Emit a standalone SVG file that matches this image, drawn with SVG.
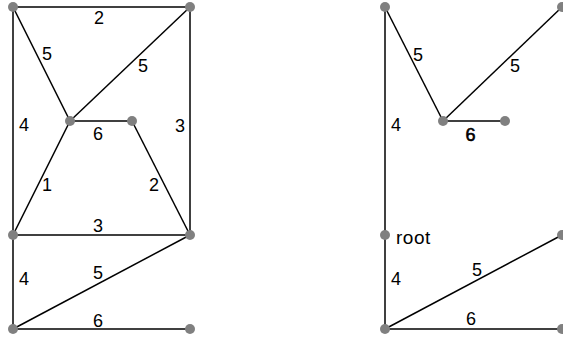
<svg xmlns="http://www.w3.org/2000/svg" width="563" height="342" viewBox="0 0 563 342">
<style>
.e{stroke:#000;stroke-width:1.5;fill:none}
.n{fill:#808080}
.t{font-family:"Liberation Sans",Arial,sans-serif;font-size:18px;fill:#000;text-anchor:middle}
.tl{font-family:"Liberation Sans",Arial,sans-serif;font-size:19px;fill:#000;letter-spacing:0.5px}
</style>
<rect width="563" height="342" fill="#fff"/>
<g id="connectors">
<line class="e" x1="13" y1="7" x2="190" y2="7"/>
<line class="e" x1="13" y1="7" x2="13" y2="329"/>
<line class="e" x1="190" y1="7" x2="190" y2="235"/>
<line class="e" x1="13" y1="7" x2="70" y2="121"/>
<line class="e" x1="190" y1="7" x2="70" y2="121"/>
<line class="e" x1="70" y1="121" x2="132" y2="121"/>
<line class="e" x1="70" y1="121" x2="13" y2="235"/>
<line class="e" x1="132" y1="121" x2="190" y2="235"/>
<line class="e" x1="13" y1="235" x2="190" y2="235"/>
<line class="e" x1="190" y1="235" x2="13" y2="329"/>
<line class="e" x1="13" y1="329" x2="190" y2="329"/>
<line class="e" x1="385" y1="7" x2="385" y2="329"/>
<line class="e" x1="385" y1="7" x2="443" y2="121"/>
<line class="e" x1="562" y1="7" x2="443" y2="121"/>
<line class="e" x1="443" y1="121" x2="505" y2="121"/>
<line class="e" x1="562" y1="235" x2="385" y2="329"/>
<line class="e" x1="385" y1="329" x2="562" y2="329"/>
</g>
<g id="labels">
<text class="t" x="99" y="24">2</text>
<text class="t" x="47" y="60">5</text>
<text class="t" x="143" y="72">5</text>
<text class="t" x="24" y="131">4</text>
<text class="t" x="98" y="140">6</text>
<text class="t" x="180" y="132">3</text>
<text class="t" x="47" y="191">1</text>
<text class="t" x="154" y="191">2</text>
<text class="t" x="98" y="232">3</text>
<text class="t" x="24" y="285">4</text>
<text class="t" x="98" y="279">5</text>
<text class="t" x="98" y="327">6</text>
<text class="t" x="418" y="61">5</text>
<text class="t" x="515" y="72">5</text>
<text class="t" x="396" y="131">4</text>
<text class="t" x="470.5" y="141" style="font-size:18px" stroke="#000" stroke-width="0.6">6</text>
<text class="tl" x="396" y="244">root</text>
<text class="t" x="396" y="285">4</text>
<text class="t" x="477" y="276">5</text>
<text class="t" x="471" y="325">6</text>
</g>
<g id="n1"><circle class="n" cx="13" cy="7" r="5"/></g>
<g id="n2"><circle class="n" cx="190" cy="7" r="5"/></g>
<g id="n3"><circle class="n" cx="70" cy="121" r="5"/></g>
<g id="n4"><circle class="n" cx="132" cy="121" r="5"/></g>
<g id="n5"><circle class="n" cx="13" cy="235" r="5"/></g>
<g id="n6"><circle class="n" cx="190" cy="235" r="5"/></g>
<g id="n7"><circle class="n" cx="13" cy="329" r="5"/></g>
<g id="n8"><circle class="n" cx="190" cy="329" r="5"/></g>
<g id="m1"><circle class="n" cx="385" cy="7" r="5"/></g>
<g id="m2"><circle class="n" cx="562" cy="7" r="5"/></g>
<g id="m3"><circle class="n" cx="443" cy="121" r="5"/></g>
<g id="m4"><circle class="n" cx="505" cy="121" r="5"/></g>
<g id="m5"><circle class="n" cx="385" cy="235" r="5"/></g>
<g id="m6"><circle class="n" cx="562" cy="235" r="5"/></g>
<g id="m7"><circle class="n" cx="385" cy="329" r="5"/></g>
<g id="m8"><circle class="n" cx="562" cy="329" r="5"/></g>
</svg>
